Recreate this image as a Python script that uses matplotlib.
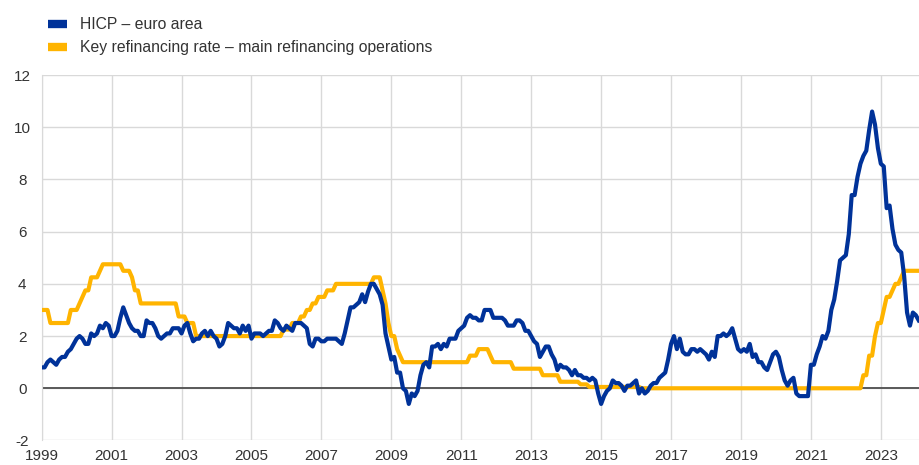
import matplotlib.pyplot as plt
from matplotlib.lines import Line2D

plt.rcParams['font.family'] = ['Liberation Sans', 'DejaVu Sans']
plt.rcParams['axes.unicode_minus'] = False

start_year = 1999

# HICP euro area, annual % change, monthly (Jan 1999 - Feb 2024)
hicp = [
    0.8, 0.8, 1.0, 1.1, 1.0, 0.9, 1.1, 1.2, 1.2, 1.4, 1.5, 1.7,   # 1999
    1.9, 2.0, 1.9, 1.7, 1.7, 2.1, 2.0, 2.1, 2.4, 2.3, 2.5, 2.4,   # 2000
    2.0, 2.0, 2.2, 2.7, 3.1, 2.8, 2.5, 2.3, 2.2, 2.2, 2.0, 2.0,   # 2001
    2.6, 2.5, 2.5, 2.3, 2.0, 1.9, 2.0, 2.1, 2.1, 2.3, 2.3, 2.3,   # 2002
    2.1, 2.4, 2.5, 2.1, 1.8, 1.9, 1.9, 2.1, 2.2, 2.0, 2.2, 2.0,   # 2003
    1.9, 1.6, 1.7, 2.0, 2.5, 2.4, 2.3, 2.3, 2.1, 2.4, 2.2, 2.4,   # 2004
    1.9, 2.1, 2.1, 2.1, 2.0, 2.1, 2.2, 2.2, 2.6, 2.5, 2.3, 2.2,   # 2005
    2.4, 2.3, 2.2, 2.5, 2.5, 2.5, 2.4, 2.3, 1.7, 1.6, 1.9, 1.9,   # 2006
    1.8, 1.8, 1.9, 1.9, 1.9, 1.9, 1.8, 1.7, 2.1, 2.6, 3.1, 3.1,   # 2007
    3.2, 3.3, 3.6, 3.3, 3.7, 4.0, 4.0, 3.8, 3.6, 3.2, 2.1, 1.6,   # 2008
    1.1, 1.2, 0.6, 0.6, 0.0, -0.1, -0.6, -0.2, -0.3, -0.1, 0.5, 0.9,  # 2009
    1.0, 0.8, 1.6, 1.6, 1.7, 1.5, 1.7, 1.6, 1.9, 1.9, 1.9, 2.2,   # 2010
    2.3, 2.4, 2.7, 2.8, 2.7, 2.7, 2.6, 2.6, 3.0, 3.0, 3.0, 2.7,   # 2011
    2.7, 2.7, 2.7, 2.6, 2.4, 2.4, 2.4, 2.6, 2.6, 2.5, 2.2, 2.2,   # 2012
    2.0, 1.8, 1.7, 1.2, 1.4, 1.6, 1.6, 1.3, 1.1, 0.7, 0.9, 0.8,   # 2013
    0.8, 0.7, 0.5, 0.7, 0.5, 0.5, 0.4, 0.4, 0.3, 0.4, 0.3, -0.2,  # 2014
    -0.6, -0.3, -0.1, 0.0, 0.3, 0.2, 0.2, 0.1, -0.1, 0.1, 0.1, 0.2,  # 2015
    0.3, -0.2, 0.0, -0.2, -0.1, 0.1, 0.2, 0.2, 0.4, 0.5, 0.6, 1.1,  # 2016
    1.7, 2.0, 1.5, 1.9, 1.4, 1.3, 1.3, 1.5, 1.5, 1.4, 1.5, 1.4,   # 2017
    1.3, 1.1, 1.4, 1.2, 2.0, 2.0, 2.1, 2.0, 2.1, 2.3, 1.9, 1.5,   # 2018
    1.4, 1.5, 1.4, 1.7, 1.2, 1.3, 1.0, 1.0, 0.8, 0.7, 1.0, 1.3,   # 2019
    1.4, 1.2, 0.7, 0.3, 0.1, 0.3, 0.4, -0.2, -0.3, -0.3, -0.3, -0.3,  # 2020
    0.9, 0.9, 1.3, 1.6, 2.0, 1.9, 2.2, 3.0, 3.4, 4.1, 4.9, 5.0,   # 2021
    5.1, 5.9, 7.4, 7.4, 8.1, 8.6, 8.9, 9.1, 9.9, 10.6, 10.1, 9.2,  # 2022
    8.6, 8.5, 6.9, 7.0, 6.1, 5.5, 5.3, 5.2, 4.3, 2.9, 2.4, 2.9,   # 2023
    2.8, 2.6,                                                     # 2024
]

# ECB main refinancing operations rate, % per annum, monthly
mro = [
    3.0, 3.0, 3.0, 2.5, 2.5, 2.5, 2.5, 2.5, 2.5, 2.5, 3.0, 3.0,   # 1999
    3.0, 3.25, 3.5, 3.75, 3.75, 4.25, 4.25, 4.25, 4.5, 4.75, 4.75, 4.75,  # 2000
    4.75, 4.75, 4.75, 4.75, 4.5, 4.5, 4.5, 4.25, 3.75, 3.75, 3.25, 3.25,  # 2001
    3.25, 3.25, 3.25, 3.25, 3.25, 3.25, 3.25, 3.25, 3.25, 3.25, 3.25, 2.75,  # 2002
    2.75, 2.75, 2.5, 2.5, 2.5, 2.0, 2.0, 2.0, 2.0, 2.0, 2.0, 2.0,  # 2003
    2.0, 2.0, 2.0, 2.0, 2.0, 2.0, 2.0, 2.0, 2.0, 2.0, 2.0, 2.0,   # 2004
    2.0, 2.0, 2.0, 2.0, 2.0, 2.0, 2.0, 2.0, 2.0, 2.0, 2.0, 2.25,  # 2005
    2.25, 2.25, 2.5, 2.5, 2.5, 2.75, 2.75, 3.0, 3.0, 3.25, 3.25, 3.5,  # 2006
    3.5, 3.5, 3.75, 3.75, 3.75, 4.0, 4.0, 4.0, 4.0, 4.0, 4.0, 4.0,  # 2007
    4.0, 4.0, 4.0, 4.0, 4.0, 4.0, 4.25, 4.25, 4.25, 3.75, 3.25, 2.5,  # 2008
    2.0, 2.0, 1.5, 1.25, 1.0, 1.0, 1.0, 1.0, 1.0, 1.0, 1.0, 1.0,  # 2009
    1.0, 1.0, 1.0, 1.0, 1.0, 1.0, 1.0, 1.0, 1.0, 1.0, 1.0, 1.0,   # 2010
    1.0, 1.0, 1.0, 1.25, 1.25, 1.25, 1.5, 1.5, 1.5, 1.5, 1.25, 1.0,  # 2011
    1.0, 1.0, 1.0, 1.0, 1.0, 1.0, 0.75, 0.75, 0.75, 0.75, 0.75, 0.75,  # 2012
    0.75, 0.75, 0.75, 0.75, 0.5, 0.5, 0.5, 0.5, 0.5, 0.5, 0.25, 0.25,  # 2013
    0.25, 0.25, 0.25, 0.25, 0.25, 0.15, 0.15, 0.15, 0.05, 0.05, 0.05, 0.05,  # 2014
    0.05, 0.05, 0.05, 0.05, 0.05, 0.05, 0.05, 0.05, 0.05, 0.05, 0.05, 0.05,  # 2015
    0.05, 0.05, 0.0, 0.0, 0.0, 0.0, 0.0, 0.0, 0.0, 0.0, 0.0, 0.0,  # 2016
    0.0, 0.0, 0.0, 0.0, 0.0, 0.0, 0.0, 0.0, 0.0, 0.0, 0.0, 0.0,   # 2017
    0.0, 0.0, 0.0, 0.0, 0.0, 0.0, 0.0, 0.0, 0.0, 0.0, 0.0, 0.0,   # 2018
    0.0, 0.0, 0.0, 0.0, 0.0, 0.0, 0.0, 0.0, 0.0, 0.0, 0.0, 0.0,   # 2019
    0.0, 0.0, 0.0, 0.0, 0.0, 0.0, 0.0, 0.0, 0.0, 0.0, 0.0, 0.0,   # 2020
    0.0, 0.0, 0.0, 0.0, 0.0, 0.0, 0.0, 0.0, 0.0, 0.0, 0.0, 0.0,   # 2021
    0.0, 0.0, 0.0, 0.0, 0.0, 0.0, 0.5, 0.5, 1.25, 1.25, 2.0, 2.5,  # 2022
    2.5, 3.0, 3.5, 3.5, 3.75, 4.0, 4.0, 4.25, 4.5, 4.5, 4.5, 4.5,  # 2023
    4.5, 4.5,                                                     # 2024
]

labels = ['HICP \u2013 euro area',
          'Key refinancing rate \u2013 main refinancing operations']
blue = '#003299'
yellow = '#ffb400'

t_hicp = [start_year + i / 12 for i in range(len(hicp))]
t_mro = [start_year + i / 12 for i in range(len(mro))]

fig = plt.figure(figsize=(9.2, 4.65), dpi=100)
ax = fig.add_axes([0.0453, 0.0527, 0.9547, 0.786])

ax.plot(t_mro, mro, color=yellow, lw=3.0, zorder=3)
ax.plot(t_hicp, hicp, color=blue, lw=3.0, zorder=4)
ax.axhline(0, color='#595959', lw=1.4, zorder=2)

ax.set_xlim(1999, 2024.12)
ax.set_ylim(-2, 12)
ax.set_xticks(range(1999, 2024, 2))
ax.set_yticks(range(-2, 13, 2))
ax.grid(True, color='#d9d9d9', lw=1)
ax.set_axisbelow(True)
ax.tick_params(length=0, labelsize=11, colors='#333333', pad=6)
ax.tick_params(axis='y', pad=14)
for lab in ax.get_yticklabels():
    lab.set_horizontalalignment('center')
for s in ['top', 'right', 'bottom']:
    ax.spines[s].set_visible(False)
ax.spines['left'].set_color('#d9d9d9')

handles = [Line2D([], [], color=blue, lw=6, solid_capstyle='butt'),
           Line2D([], [], color=yellow, lw=6, solid_capstyle='butt')]
fig.legend(handles, labels, loc='upper left', bbox_to_anchor=(0.044, 0.98),
           frameon=False, fontsize=11.3, handlelength=1.2, handletextpad=0.8,
           labelspacing=0.5, borderpad=0, labelcolor='#333333')

fig.savefig('out.png', dpi=100)
